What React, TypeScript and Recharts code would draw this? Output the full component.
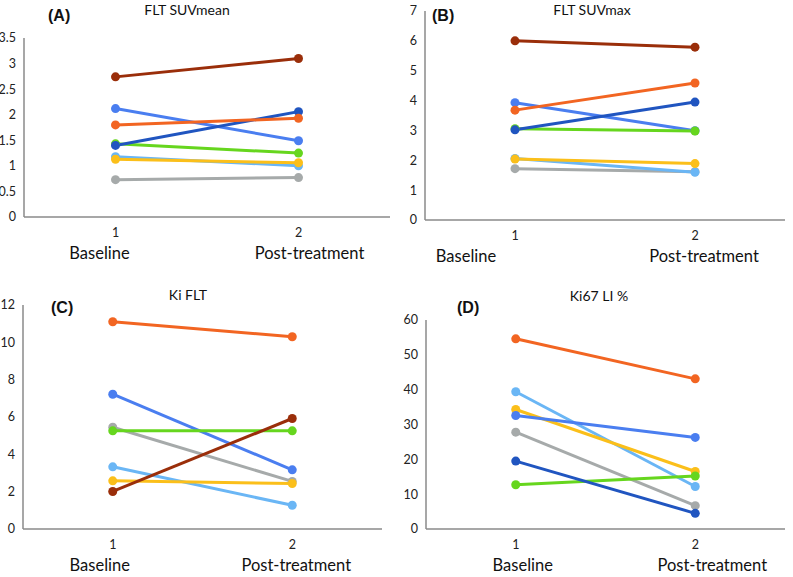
import { Line, LineChart, XAxis, YAxis } from 'recharts'

// one entry per patient, same colour in every panel
const patients = ['p1', 'p2', 'p3', 'p4', 'p5', 'p6', 'p7', 'p8']
const colors = ['#a6aaaa', '#6ab6f5', '#fbbf1a', '#4a7ef0', '#66d61e', '#2055c0', '#f26522', '#9a2e0a']

const timepoints = [1, 2]
const timeLabels = ['Baseline', 'Post-treatment']

// (A) FLT SUVmean  [gray, light blue, yellow, blue, green, dark blue, orange, brown]
const suvMeanBaseline = [0.73, 1.18, 1.13, 2.12, 1.43, 1.4, 1.8, 2.74]
const suvMeanPost = [0.77, 1.0, 1.06, 1.49, 1.25, 2.06, 1.93, 3.1]
const suvMeanTicks = [0, 0.5, 1, 1.5, 2, 2.5, 3, 3.5]

// (B) FLT SUVmax
const suvMaxBaseline = [1.72, 2.06, 2.04, 3.93, 3.06, 3.02, 3.68, 6.0]
const suvMaxPost = [1.62, 1.6, 1.89, 2.99, 2.98, 3.95, 4.59, 5.79]
const suvMaxTicks = [0, 1, 2, 3, 4, 5, 6, 7]

// (C) Ki FLT (no dark blue patient)
const kiBaseline = [5.45, 3.33, 2.58, 7.22, 5.26, null, 11.1, 2.01]
const kiPost = [2.55, 1.27, 2.44, 3.17, 5.26, null, 10.3, 5.92]
const kiTicks = [0, 2, 4, 6, 8, 10, 12]

// (D) Ki67 LI % (no brown patient)
const ki67Baseline = [27.8, 39.4, 34.3, 32.6, 12.7, 19.5, 54.6, null]
const ki67Post = [6.7, 12.2, 16.5, 26.3, 15.2, 4.5, 43.1, null]
const ki67Ticks = [0, 10, 20, 30, 40, 50, 60]

const buildRows = (base: (number | null)[], post: (number | null)[]) =>
  timepoints.map((t, i) => {
    const row: Record<string, number | null> = { t }
    patients.forEach((p, j) => {
      row[p] = i === 0 ? base[j] : post[j]
    })
    return row
  })

const FONT = 'Lato, "Open Sans", sans-serif'

interface PanelProps {
  left: number
  top: number
  width: number
  height: number
  axisX: number
  plotRight: number
  plotTop: number
  plotBottom: number
  base: (number | null)[]
  post: (number | null)[]
  ticks: number[]
  title: string
  titleX: number
  titleY: number
  letter: string
  letterX: number
  letterY: number
  labelOffsets: number[]
}

const Panel = (props: PanelProps) => {
  const { left, top, width, height, axisX, plotRight, plotTop, plotBottom, base, post, ticks } = props
  const data = buildRows(base, post)
  const xAxisHeight = 20
  const margin = {
    top: plotTop - top,
    right: left + width - plotRight,
    left: 0,
    bottom: top + height - plotBottom - xAxisHeight
  }

  const renderTick = (tp: any) => {
    const idx = tp.payload.value - 1
    return (
      <g>
        <text x={tp.x} y={tp.y + 12} textAnchor='middle' fontSize={12.5} fill='#222' fontFamily={FONT}>
          {tp.payload.value}
        </text>
        <text
          x={tp.x + props.labelOffsets[idx]}
          y={tp.y + 34}
          textAnchor='middle'
          fontSize={16.5}
          fill='#111'
          fontFamily={FONT}
        >
          {timeLabels[idx]}
        </text>
      </g>
    )
  }

  return (
    <>
      <div style={{ position: 'absolute', left, top }}>
        <LineChart width={width} height={height} data={data} margin={margin}>
          <XAxis
            dataKey='t'
            type='number'
            domain={[0.5, 2.5]}
            ticks={timepoints}
            height={xAxisHeight}
            tickLine={false}
            axisLine={{ stroke: '#8a8a8a', strokeWidth: 1.5 }}
            tick={renderTick}
            interval={0}
          />
          <YAxis
            type='number'
            domain={[ticks[0], ticks[ticks.length - 1]]}
            ticks={ticks}
            width={axisX - left}
            tickLine={false}
            axisLine={{ stroke: '#8a8a8a', strokeWidth: 1.5 }}
            tick={{ fontSize: 12.5, fill: '#222', fontFamily: FONT }}
            interval={0}
          />
          {patients.map((p, j) =>
            base[j] == null ? null : (
              <Line
                key={p}
                dataKey={p}
                stroke={colors[j]}
                strokeWidth={3}
                dot={{ r: 4.5, fill: colors[j], stroke: colors[j], strokeWidth: 0 }}
                isAnimationActive={false}
              />
            )
          )}
        </LineChart>
      </div>
      <div
        style={{
          position: 'absolute',
          left: props.titleX - 100,
          width: 200,
          top: props.titleY - 8,
          lineHeight: '16px',
          textAlign: 'center',
          fontFamily: FONT,
          fontSize: 14,
          color: '#111'
        }}
      >
        {props.title}
      </div>
      <div
        style={{
          position: 'absolute',
          left: props.letterX,
          top: props.letterY - 9,
          lineHeight: '18px',
          fontFamily: 'Arial, "Liberation Sans", sans-serif',
          fontWeight: 'bold',
          fontSize: 16,
          color: '#111'
        }}
      >
        {props.letter}
      </div>
    </>
  )
}

export default function App() {
  return (
    <div style={{ position: 'absolute', left: 0, top: 0, width: 793, height: 577, background: '#fff' }}>
      <Panel
        left={0}
        top={0}
        width={395}
        height={285}
        axisX={24}
        plotRight={390}
        plotTop={38}
        plotBottom={217}
        base={suvMeanBaseline}
        post={suvMeanPost}
        ticks={suvMeanTicks}
        title='FLT SUVmean'
        titleX={187}
        titleY={10}
        letter='(A)'
        letterX={48}
        letterY={16}
        labelOffsets={[-16, 11]}
      />
      <Panel
        left={395}
        top={0}
        width={398}
        height={285}
        axisX={425}
        plotRight={785}
        plotTop={11}
        plotBottom={220}
        base={suvMaxBaseline}
        post={suvMaxPost}
        ticks={suvMaxTicks}
        title='FLT SUVmax'
        titleX={592}
        titleY={10}
        letter='(B)'
        letterX={432}
        letterY={16}
        labelOffsets={[-49, 9]}
      />
      <Panel
        left={0}
        top={285}
        width={395}
        height={292}
        axisX={23}
        plotRight={382}
        plotTop={305}
        plotBottom={529}
        base={kiBaseline}
        post={kiPost}
        ticks={kiTicks}
        title='Ki FLT'
        titleX={188}
        titleY={295}
        letter='(C)'
        letterX={51}
        letterY={308}
        labelOffsets={[-13, 4]}
      />
      <Panel
        left={395}
        top={285}
        width={398}
        height={292}
        axisX={426}
        plotRight={785}
        plotTop={320}
        plotBottom={529}
        base={ki67Baseline}
        post={ki67Post}
        ticks={ki67Ticks}
        title='Ki67 LI %'
        titleX={599}
        titleY={296}
        letter='(D)'
        letterX={457}
        letterY={308}
        labelOffsets={[7, 17]}
      />
    </div>
  )
}
